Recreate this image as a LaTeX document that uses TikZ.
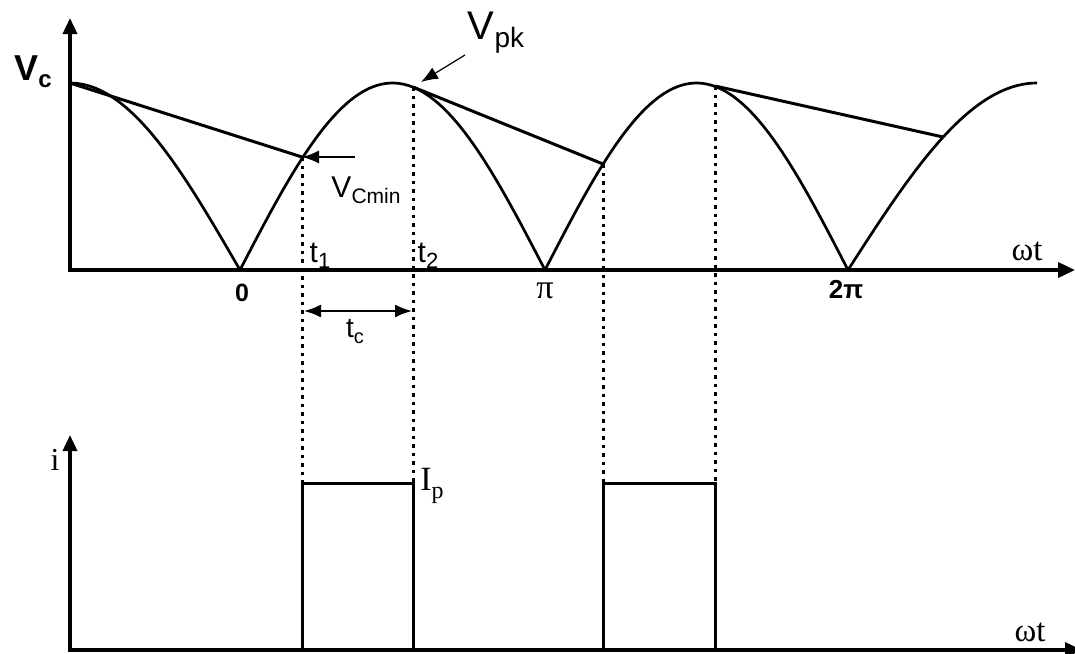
\documentclass[tikz,border=0pt]{standalone}
\usepackage{fontspec}
\setmainfont{Liberation Serif}
\setsansfont{Liberation Sans}
\usetikzlibrary{arrows.meta}
\newcommand{\sz}[1]{\fontsize{#1}{#1}\selectfont}

\begin{document}
\begin{tikzpicture}[x=1pt,y=-1pt,
    axes/.style={line width=3.6pt, {Triangle[length=16pt,width=14pt]}-{Triangle[length=17pt,width=15pt]}},
    wave/.style={line width=2.7pt, line join=round},
    discharge/.style={line width=3pt},
    guide/.style={line width=3pt, dash pattern=on 3.5pt off 5pt},
    pulse/.style={line width=3pt},
    pointer/.style={line width=1.2pt, -{Latex[length=17pt,width=13pt]}},
    lbl/.style={inner sep=0pt, font=\sffamily},
    rml/.style={inner sep=0pt, font=\rmfamily}]
  \useasboundingbox (0,0) rectangle (1075,653);
  % axes
  \draw[axes] (70,18) |- (1075,270);
  \draw[axes] (70,435) |- (1082,650);
  % rectified wave
  \draw[wave] plot[domain=70:240, samples=40] (\x, {270-187*cos((\x-70)/170*90)});
  \draw[wave] plot[domain=240:545, samples=70] (\x, {270-187*sin((\x-240)/305*180)});
  \draw[wave] plot[domain=545:848, samples=70] (\x, {270-187*sin((\x-545)/303*180)});
  \draw[wave] plot[domain=848:1037, samples=40] (\x, {270-187*sin((\x-848)/189*90)});
  % capacitor voltage
  \coordinate (c0) at (70,83);
  \coordinate (t1) at (302,157);
  \coordinate (t2) at (413,87);
  \coordinate (t3) at (603,164);
  \coordinate (t4) at (715,86);
  \coordinate (t5) at (943,137);
  \draw[discharge] (c0) -- (t1);
  \draw[discharge] (t2) -- (t3);
  \draw[discharge] (t4) -- (t5);
  % current pulses
  \coordinate (ptop) at (0,483);
  \coordinate (pbase) at (0,650);
  \foreach \a in {t1,t2,t3,t4}
    \draw[guide] (\a) -- (\a |- ptop);
  \draw[pulse] (t1 |- pbase) |- (t2 |- ptop) -- (t2 |- pbase);
  \draw[pulse] (t3 |- pbase) |- (t4 |- ptop) -- (t4 |- pbase);
  % labels
  \node[lbl] (vc) at (33,72) {\bfseries{\sz{36}V}\raisebox{-7pt}{\sz{24}c}};
  \node[lbl] (vpk) at (496,33) {{\sz{40}V}\raisebox{-8pt}{\sz{28}pk}};
  \coordinate (vpktail) at (465,55);
  \draw[pointer] (vpktail) -- (421,82);
  \node[lbl] (vcmin) at (366,190) {{\sz{30}V}\raisebox{-6pt}{\sz{21}Cmin}};
  \coordinate (vcmintail) at (355,157);
  \draw[pointer, line width=1.4pt] (vcmintail) -- (t1);
  \node[lbl] (lt1) at (320,256) {{\sz{30}t}\raisebox{-6pt}{\sz{22}1}};
  \node[lbl] (lt2) at (428,256) {{\sz{30}t}\raisebox{-6pt}{\sz{22}2}};
  \node[lbl] (zero) at (242,293) {\bfseries\sz{25}0};
  \node[rml] (pi) at (545,291) {\sz{34}π};
  \node[lbl] (twopi) at (846,290) {\bfseries\sz{26}2π};
  \node[rml] (wt1) at (1027,251) {\sz{33}ωt};
  \node[lbl] (ltc) at (355,332) {{\sz{28}t}\raisebox{-6pt}{\sz{20}c}};
  \draw[line width=1.8pt, {Latex[length=17pt,width=13pt]}-{Latex[length=17pt,width=13pt]}]
    (304,311) -- (412,311);
  \node[rml] (li) at (55,460) {\sz{32}i};
  \node[rml] (lip) at (432,486) {{\sz{34}I}\raisebox{-8pt}{\sz{24}p}};
  \node[rml] (wt2) at (1030,632) {\sz{33}ωt};
\end{tikzpicture}
\end{document}
